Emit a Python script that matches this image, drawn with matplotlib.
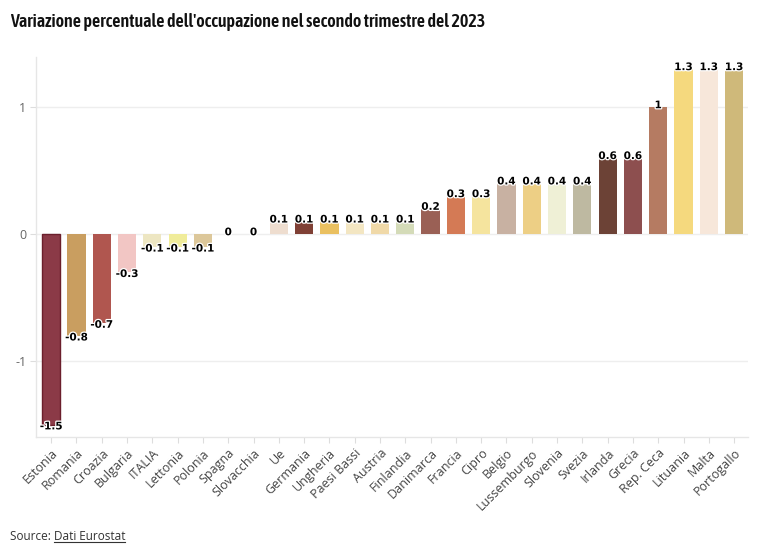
import matplotlib
matplotlib.use("Agg")
import matplotlib.pyplot as plt
import matplotlib.patheffects as pe
from matplotlib.lines import Line2D

paesi = ["Estonia", "Romania", "Croazia", "Bulgaria", "ITALIA", "Lettonia", "Polonia",
         "Spagna", "Slovacchia", "Ue", "Germania", "Ungheria", "Paesi Bassi", "Austria",
         "Finlandia", "Danimarca", "Francia", "Cipro", "Belgio", "Lussemburgo", "Slovenia",
         "Svezia", "Irlanda", "Grecia", "Rep. Ceca", "Lituania", "Malta", "Portogallo"]
variazione = [-1.5, -0.8, -0.7, -0.3, -0.1, -0.1, -0.1, 0, 0, 0.1, 0.1, 0.1, 0.1, 0.1,
              0.1, 0.2, 0.3, 0.3, 0.4, 0.4, 0.4, 0.4, 0.6, 0.6, 1, 1.3, 1.3, 1.3]
colori = ["#8b3a47", "#c99e60", "#b0564f", "#f2c6c4", "#ede6c2", "#f0ec9a", "#dcc79a",
          "#dddddd", "#dddddd", "#eeddcf", "#7f4035", "#eac060", "#f3e6c2", "#f0d9a8",
          "#d4dbb8", "#9a6055", "#d47a55", "#f5e49e", "#c8b1a2", "#edcf85", "#eff0d6",
          "#beb9a1", "#6c4236", "#8d4f4f", "#b57b62", "#f5d97e", "#f7e7da", "#cfb97a"]

fig = plt.figure(figsize=(7.67, 5.55), dpi=100)
ax = fig.add_axes([36 / 767, 1 - 437 / 555, (748 - 36) / 767, (437 - 57) / 555])

x = range(len(paesi))
ax.bar(x, variazione, width=0.72, color=colori, zorder=2)
# bordo scuro sulla prima barra
ax.bar(0, variazione[0], width=0.72, color=colori[0], edgecolor="#6b1f2c", linewidth=1, zorder=2)

halo = [pe.withStroke(linewidth=1.8, foreground="white")]
for i, v in enumerate(variazione):
    txt = "%g" % v
    if v < 0:
        ax.text(i, v + 0.025, txt, ha="center", va="top", fontsize=7.5, fontweight="bold",
                family="DejaVu Sans", path_effects=halo, zorder=3)
    else:
        ax.text(i, v - 0.025, txt, ha="center", va="bottom", fontsize=7.5, fontweight="bold",
                family="DejaVu Sans", path_effects=halo, zorder=3)

ax.set_xlim(-0.6, len(paesi) - 0.45)
ax.set_ylim(-1.598, 1.394)
ax.set_yticks([-1, 0, 1])
ax.set_yticklabels(["-1", "0", "1"])
ax.set_xticks(list(x))
ax.set_xticklabels(paesi, rotation=45, ha="right", rotation_mode="anchor",
                   family="Open Sans", fontsize=9, color="#444444")
ax.tick_params(axis="x", length=4, color="#dddddd", pad=3)
ax.tick_params(axis="y", length=4, color="#dddddd", labelsize=9, labelcolor="#666666", pad=3)
for lab in ax.get_yticklabels():
    lab.set_family("Open Sans")

ax.grid(axis="y", color="#eeeeee", linewidth=1, zorder=0)
for s in ["top", "right"]:
    ax.spines[s].set_visible(False)
for s in ["left", "bottom"]:
    ax.spines[s].set_color("#e6e6e6")
    ax.spines[s].set_linewidth(1)

fig.text(10 / 767, 1 - 22 / 555, "Variazione percentuale dell'occupazione nel secondo trimestre del 2023",
         fontsize=13, fontweight="semibold", family=["Asap Condensed", "Lato"],
         va="center", ha="left", color="#111111")

src = fig.text(10 / 767, 1 - 536 / 555, "Source: ", fontsize=8.5, family="Open Sans",
               va="center", ha="left", color="#333333")
fig.canvas.draw()
bb = src.get_window_extent()
x0 = bb.x1 / fig.bbox.width
link = fig.text(x0, 1 - 536 / 555, "Dati Eurostat", fontsize=8.5, family="Open Sans",
                va="center", ha="left", color="#333333")
fig.canvas.draw()
lb = link.get_window_extent()
y_line = (lb.y0 + 1) / fig.bbox.height
fig.add_artist(Line2D([lb.x0 / fig.bbox.width, lb.x1 / fig.bbox.width], [y_line, y_line],
                      color="#333333", linewidth=0.8, transform=fig.transFigure))

fig.savefig("out.png", dpi=100)
